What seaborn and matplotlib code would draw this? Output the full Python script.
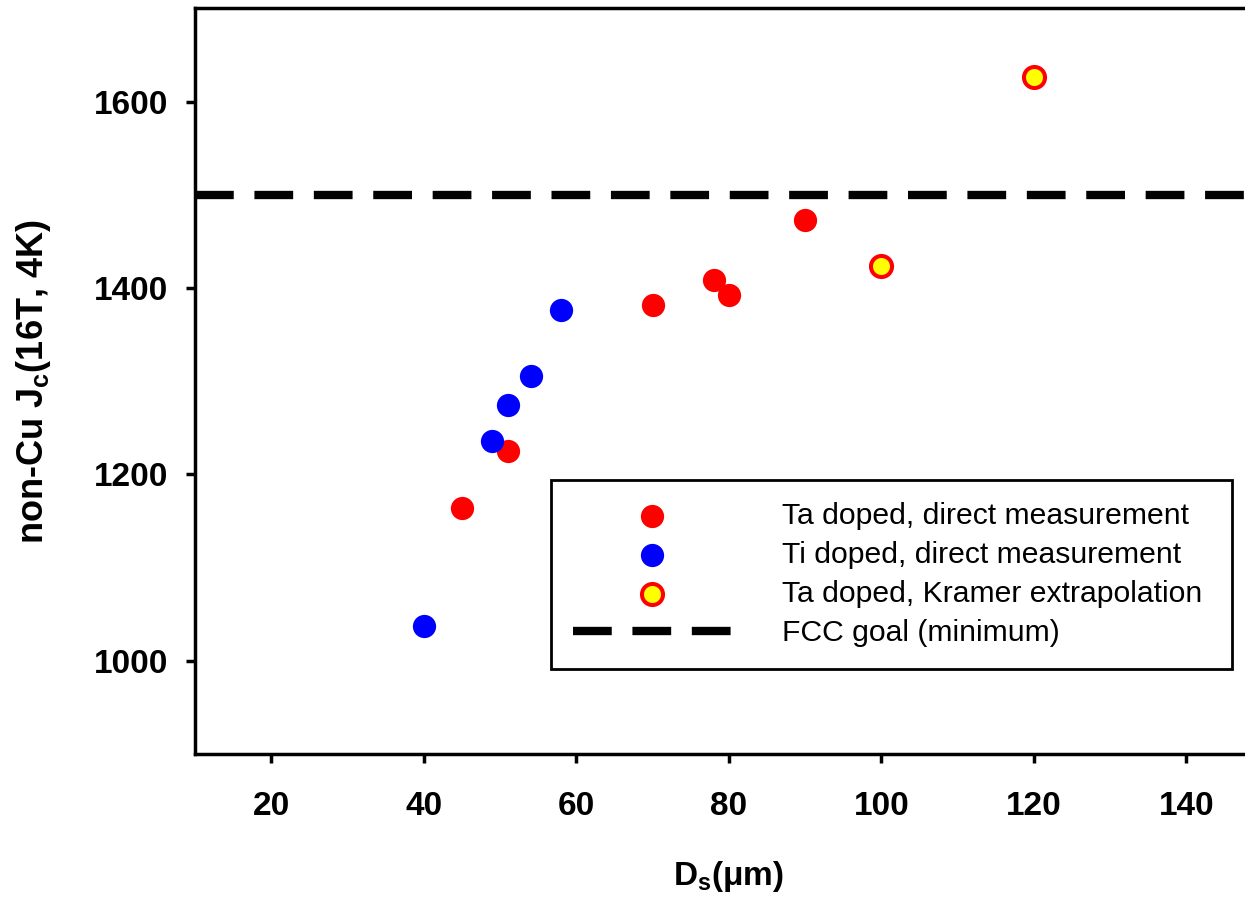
import matplotlib
matplotlib.use("Agg")
import matplotlib.pyplot as plt
import seaborn as sns
import pandas as pd

# ---- data ----
ta_x = [45, 51, 70, 78, 80, 90]
ta_y = [1164, 1225, 1382, 1409, 1392, 1473]
ti_x = [40, 49, 51, 54, 58]
ti_y = [1037, 1236, 1274, 1305, 1376]
kr_x = [100, 120]
kr_y = [1423, 1626]
goal = 1500

labels = ["Ta doped, direct measurement", "Ti doped, direct measurement",
          "Ta doped, Kramer extrapolation", "FCC goal (minimum)"]
x_ticks = [20, 40, 60, 80, 100, 120, 140]
y_ticks = [1000, 1200, 1400, 1600]

sns.set_style("ticks")
plt.rcParams['font.family'] = ['Liberation Sans', 'DejaVu Sans']
plt.rcParams['mathtext.fontset'] = 'custom'
plt.rcParams['mathtext.rm'] = 'Liberation Sans:bold'
plt.rcParams['mathtext.it'] = 'Liberation Sans:bold'
plt.rcParams['mathtext.bf'] = 'Liberation Sans:bold'
plt.rcParams['mathtext.default'] = 'bf'
for k in ['text.color', 'axes.labelcolor', 'xtick.color', 'ytick.color', 'axes.edgecolor']:
    plt.rcParams[k] = 'black'

W, H = 1245, 897
fig = plt.figure(figsize=(W / 100, H / 100), dpi=100)
fig.patch.set_facecolor('white')
ax_left, ax_right, ax_top, ax_bottom = 195, 1262.6, 8.3, 754
ax = fig.add_axes([ax_left / W, 1 - ax_bottom / H, (ax_right - ax_left) / W, (ax_bottom - ax_top) / H])
ax.set_facecolor('white')

df_ta = pd.DataFrame({"x": ta_x, "y": ta_y})
df_ti = pd.DataFrame({"x": ti_x, "y": ti_y})
df_kr = pd.DataFrame({"x": kr_x, "y": kr_y})

sns.scatterplot(data=df_ta, x="x", y="y", ax=ax, color="#FF0000", s=280,
                linewidth=0, label=labels[0], zorder=3)
sns.scatterplot(data=df_ti, x="x", y="y", ax=ax, color="#0000FF", s=280,
                linewidth=0, label=labels[1], zorder=3)
sns.scatterplot(data=df_kr, x="x", y="y", ax=ax, color="#FFFF00", s=230,
                edgecolor="#FF0000", linewidth=2.9, label=labels[2], zorder=3)
ax.axhline(goal, color="black", lw=6, dashes=(4.65, 2.48), label=labels[3], zorder=2)

ax.set_xlim(10, 150)
ax.set_ylim(900, 1700)
ax.set_xticks(x_ticks)
ax.set_yticks(y_ticks)

for sp in ax.spines.values():
    sp.set_linewidth(2.5)
    sp.set_color("black")

ax.tick_params(axis='both', direction='out', length=6.5, width=2.5, color='black',
               labelsize=24, labelcolor='black')
ax.tick_params(axis='x', pad=20)
ax.tick_params(axis='y', pad=13)
for t in ax.get_xticklabels() + ax.get_yticklabels():
    t.set_fontweight('bold')

ax.set_xlabel("D$_{s}$(μm)", fontsize=24, fontweight='bold', labelpad=27, color='black')
ax.set_ylabel("non-Cu J$_{c}$(16T, 4K)", fontsize=26, fontweight='bold', labelpad=29, color='black')

top_y = 1 - 480 / H
leg = ax.legend(loc='upper left',
                bbox_to_anchor=(551 / W, top_y - 0.01, (1232 - 551) / W, 0.01),
                bbox_transform=fig.transFigure, mode='expand', borderaxespad=0,
                fontsize=21.7, frameon=True, fancybox=False, shadow=False,
                handlelength=5.25, handletextpad=1.7, borderpad=0.72,
                labelspacing=0.37, framealpha=1)
leg.get_frame().set_edgecolor('black')
leg.get_frame().set_linewidth(2)
for t in leg.get_texts():
    t.set_color('black')

fig.savefig("out.png", dpi=100, facecolor='white')
